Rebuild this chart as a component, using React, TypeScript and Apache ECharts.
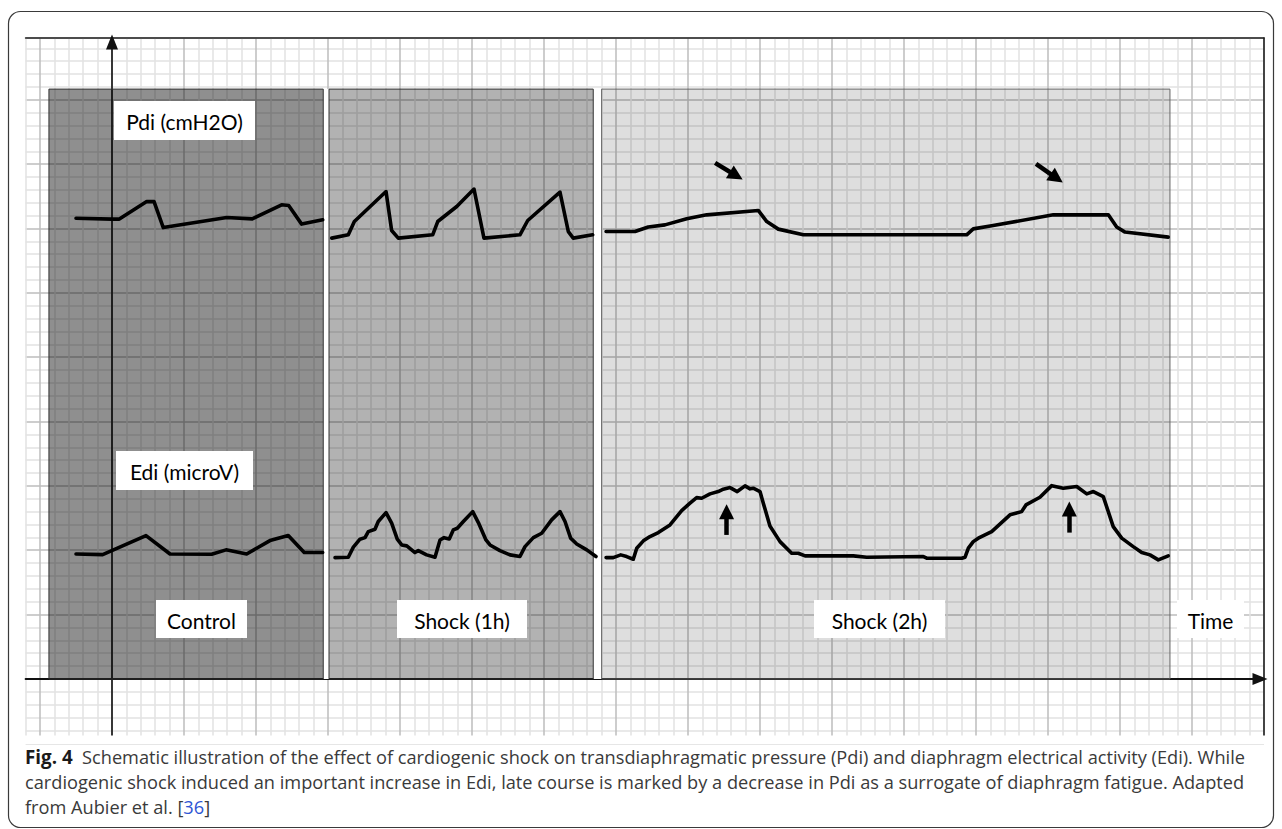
import React, { useEffect, useRef } from 'react';
import * as echarts from 'echarts';

// ---- data (x: time in minor grid units from the vertical axis; y: minor grid units above the time axis)
const pdiControl = [[-2.5, 35.8], [0, 35.73], [0.51, 35.73], [2.41, 37.09], [2.92, 37.09], [3.56, 35.07], [7.97, 35.85], [9.74, 35.75], [11.78, 36.84], [12.27, 36.78], [13.17, 35.34], [14.63, 35.67]];
const pdiShock1h = [[15.26, 34.25], [16.41, 34.51], [16.83, 35.54], [19.03, 37.87], [19.42, 34.84], [19.88, 34.25], [22.27, 34.51], [22.62, 35.54], [23.94, 36.71], [25.14, 38.06], [25.83, 34.25], [28.33, 34.51], [28.87, 35.62], [31.11, 37.83], [31.69, 34.76], [32.03, 34.25], [33.38, 34.51]];
const pdiShock2h = [[34.31, 34.76], [36.32, 34.76], [37.24, 35.11], [38.4, 35.28], [39.91, 35.75], [41.3, 36.06], [44.88, 36.4], [45.47, 35.54], [46.27, 34.95], [48.01, 34.51], [59.35, 34.51], [59.81, 34.97], [61.09, 35.21], [65.37, 36.06], [69.19, 36.06], [69.77, 35.11], [70.35, 34.72], [73.35, 34.33]];

const ediControl = [[-2.5, 9.71], [-0.65, 9.66], [2.36, 11.14], [4.03, 9.71], [6.92, 9.69], [7.92, 10.03], [9.35, 9.71], [10.97, 10.75], [12.24, 11.14], [13.35, 9.82], [14.63, 9.82]];
const ediShock1h = [[15.49, 9.43], [16.41, 9.46], [16.76, 10.24], [17.22, 10.86], [17.57, 10.98], [17.8, 11.45], [18.26, 11.63], [18.49, 12.23], [19.03, 12.92], [19.42, 12.1], [19.81, 10.86], [20.12, 10.41], [20.47, 10.34], [21.04, 9.82], [21.27, 9.97], [21.85, 9.64], [22.43, 9.46], [22.78, 10.8], [23.06, 10.98], [23.42, 10.88], [23.7, 11.58], [23.98, 11.71], [24.4, 12.23], [25.05, 13.0], [25.44, 12.15], [25.97, 10.8], [26.25, 10.41], [26.94, 9.97], [27.64, 9.64], [28.33, 9.51], [28.68, 10.28], [29.26, 10.98], [29.84, 11.32], [30.53, 12.36], [31.11, 13.0], [31.46, 12.23], [31.85, 10.94], [32.27, 10.49], [32.97, 10.03], [33.61, 9.51]];
const ediShock2h = [[34.31, 9.43], [34.81, 9.43], [35.33, 9.64], [35.74, 9.51], [36.2, 9.3], [36.44, 10.16], [36.9, 10.73], [37.36, 11.06], [37.94, 11.37], [38.75, 11.97], [39.56, 13.08], [40.14, 13.66], [40.6, 14.09], [40.95, 14.04], [41.53, 14.38], [42.1, 14.56], [42.45, 14.74], [42.92, 14.87], [43.42, 14.56], [43.96, 15.0], [44.31, 14.77], [44.53, 14.82], [45.0, 14.56], [45.23, 13.66], [45.69, 11.89], [46.39, 10.67], [47.2, 9.77], [47.66, 9.77], [48.13, 9.56], [51.48, 9.56], [52.41, 9.46], [56.34, 9.51], [56.58, 9.38], [59.01, 9.38], [59.24, 9.46], [59.47, 10.16], [59.81, 10.67], [60.16, 10.94], [61.09, 11.45], [62.36, 12.75], [63.17, 13.0], [63.47, 13.52], [64.44, 14.12], [65.26, 15.02], [66.06, 14.82], [66.99, 14.95], [67.69, 14.38], [68.15, 14.56], [68.84, 14.17], [69.53, 11.84], [70.12, 10.94], [70.92, 10.28], [71.51, 9.82], [72.08, 9.64], [72.66, 9.25], [73.35, 9.56]];

const phaseNames = ['Control', 'Shock (1h)', 'Shock (2h)'];
const phaseStart = [-4.38, 15.07, 34.0];
const phaseEnd = [14.67, 33.42, 73.47];
const phaseTop = 45.83;

const arrowTail = [[41.88, 40.1], [64.17, 40.02], [42.68, 11.19], [66.48, 11.37]];
const arrowHead = [[43.35, 39.1], [65.6, 38.9], [42.68, 13.0], [66.48, 13.2]];

const traceLabels = ['Pdi (cmH2O)', 'Edi (microV)'];
const axisName = 'Time';
const captionLines = [
  'Schematic illustration of the effect of cardiogenic shock on transdiaphragmatic pressure (Pdi) and diaphragm electrical activity (Edi). While',
  'cardiogenic shock induced an important increase in Edi, late course is marked by a decrease in Pdi as a surrogate of diaphragm fatigue. Adapted',
  'from Aubier et al. [',
];
const figLabel = 'Fig. 4';
const refNumber = '36';

const MINOR = '#e2e2e2';
const MAJOR = '#bdbdbd';
const FONT = 'Lato, "Open Sans", sans-serif';
const CAP_FONT = '"Open Sans", "Noto Sans", sans-serif';

export default function App() {
  const ref = useRef<HTMLDivElement>(null);
  useEffect(() => {
    if (!ref.current) return;
    const chart = echarts.init(ref.current, null, { renderer: 'svg' });

    const lineSeries = (name: string, data: number[][]) => ({
      name,
      type: 'line',
      data,
      symbol: 'none',
      z: 3,
      silent: true,
      lineStyle: { color: '#000', width: 3.6, join: 'round', cap: 'round' },
    });

    const fills = ['rgba(0,0,0,0.44)', 'rgba(0,0,0,0.30)', 'rgba(0,0,0,0.13)'];
    const areaData: any[] = [];
    for (let i = 0; i < phaseStart.length - 1; i++) {
      areaData.push([
        { xAxis: phaseEnd[i], yAxis: 0, itemStyle: { color: '#ffffff', borderWidth: 0 } },
        { xAxis: phaseStart[i + 1], yAxis: phaseTop },
      ]);
    }
    phaseNames.forEach((n, i) => {
      areaData.push([
        { name: n, xAxis: phaseStart[i], yAxis: 0, itemStyle: { color: fills[i], borderColor: i === 2 ? '#666' : '#333', borderWidth: 1 } },
        { xAxis: phaseEnd[i], yAxis: phaseTop },
      ]);
    });

    const arrowData = arrowTail.map((t, i) => [{ coord: t }, { coord: arrowHead[i] }]);

    const labelBoxes = [
      { text: traceLabels[0], x: 114, y: 101, w: 141, h: 39 },
      { text: traceLabels[1], x: 116, y: 451, w: 137, h: 39 },
      { text: phaseNames[0], x: 156, y: 600, w: 91, h: 38 },
      { text: phaseNames[1], x: 397, y: 600, w: 130, h: 38 },
      { text: phaseNames[2], x: 814, y: 600, w: 131, h: 38 },
      { text: axisName, x: 1177, y: 600, w: 67, h: 38 },
    ];

    const graphics: any[] = [
      {
        type: 'rect', z: 100, silent: true,
        shape: { x: 20, y: 735.5, width: 1250, height: 9 },
        style: { fill: '#ffffff' },
      },
      {
        type: 'rect', z: 101, silent: true,
        shape: { x: 8.5, y: 11.5, width: 1265, height: 816, r: 12 },
        style: { fill: 'none', stroke: '#3a3a3a', lineWidth: 1.2 },
      },
    ];
    labelBoxes.forEach((b) => {
      graphics.push({
        type: 'rect', z: 102, silent: true,
        shape: { x: b.x, y: b.y, width: b.w, height: b.h },
        style: { fill: '#ffffff' },
      });
      graphics.push({
        type: 'text', z: 103, silent: true,
        x: b.x + b.w / 2, y: b.y + b.h / 2 + 1,
        style: { text: b.text, fill: '#000', fontSize: 21, fontFamily: FONT, align: 'center', verticalAlign: 'middle' },
      });
    });
    const capY = [757, 782, 807];
    captionLines.forEach((line, i) => {
      let text = line;
      if (i === 0) text = '{b|' + figLabel + '}  ' + line;
      if (i === 2) text = line + '{l|' + refNumber + '}]';
      graphics.push({
        type: 'text', z: 103, silent: true,
        x: 25, y: capY[i],
        style: {
          text, fill: '#3a3a3a', fontSize: 18.2, fontFamily: CAP_FONT, align: 'left', verticalAlign: 'middle',
          rich: {
            b: { fontWeight: 'bold', fill: '#1a1a1a', fontSize: 18.8, fontFamily: CAP_FONT },
            l: { fill: '#2f55d4', fontSize: 18.2, fontFamily: CAP_FONT },
          },
        },
      });
    });

    chart.setOption({
      animation: false,
      textStyle: { fontFamily: FONT },
      grid: { left: 25.6, right: 18, top: 38, bottom: 85.7, containLabel: false },
      xAxis: [
        {
          type: 'value', min: -6, max: 80, interval: 1,
          axisLabel: { show: false }, axisTick: { show: false },
          axisLine: { show: true, onZero: true, onZeroAxisIndex: 0, symbol: ['none', 'triangle'], symbolSize: [12, 15], symbolOffset: [0, -4], lineStyle: { color: '#111', width: 2 } },
          splitLine: { show: true, lineStyle: { color: [MINOR, MAJOR, MINOR, MINOR, MINOR], width: 1.5 } },
        },
        {
          type: 'value', position: 'top', min: -6, max: 80,
          axisLabel: { show: false }, axisTick: { show: false }, splitLine: { show: false },
          axisLine: { show: true, onZero: false, lineStyle: { color: '#222', width: 1.6 } },
        },
      ],
      yAxis: [
        {
          type: 'value', min: -5, max: 49.8, interval: 1,
          axisLabel: { show: false }, axisTick: { show: false },
          axisLine: { show: true, onZero: true, onZeroAxisIndex: 0, symbol: ['none', 'triangle'], symbolSize: [12, 15], symbolOffset: [0, -4], lineStyle: { color: '#111', width: 1.6 } },
          splitLine: { show: true, lineStyle: { color: [MAJOR, MINOR, MINOR, MINOR, MINOR], width: 1.5 } },
        },
        {
          type: 'value', position: 'right', min: -5, max: 49.8,
          axisLabel: { show: false }, axisTick: { show: false }, splitLine: { show: false },
          axisLine: { show: true, onZero: false, lineStyle: { color: '#222', width: 1.6 } },
        },
      ],
      series: [
        {
          name: 'phases', type: 'line', data: [[-6, -5]], symbol: 'none', silent: true, z: 1,
          lineStyle: { opacity: 0 },
          markArea: { silent: true, label: { show: false }, data: areaData },
        },
        lineSeries('Pdi control', pdiControl),
        lineSeries('Pdi shock 1h', pdiShock1h),
        {
          ...lineSeries('Pdi shock 2h', pdiShock2h),
          markLine: {
            silent: true, symbol: ['none', 'triangle'], symbolSize: [15, 15], label: { show: false },
            lineStyle: { color: '#000', width: 4.5, type: 'solid' },
            data: arrowData,
          },
        },
        lineSeries('Edi control', ediControl),
        lineSeries('Edi shock 1h', ediShock1h),
        lineSeries('Edi shock 2h', ediShock2h),
      ],
      graphic: graphics,
    });
    return () => chart.dispose();
  }, []);
  return <div ref={ref} style={{ position: 'absolute', left: 0, top: 0, width: 1282, height: 829, background: '#fff' }} />;
}
